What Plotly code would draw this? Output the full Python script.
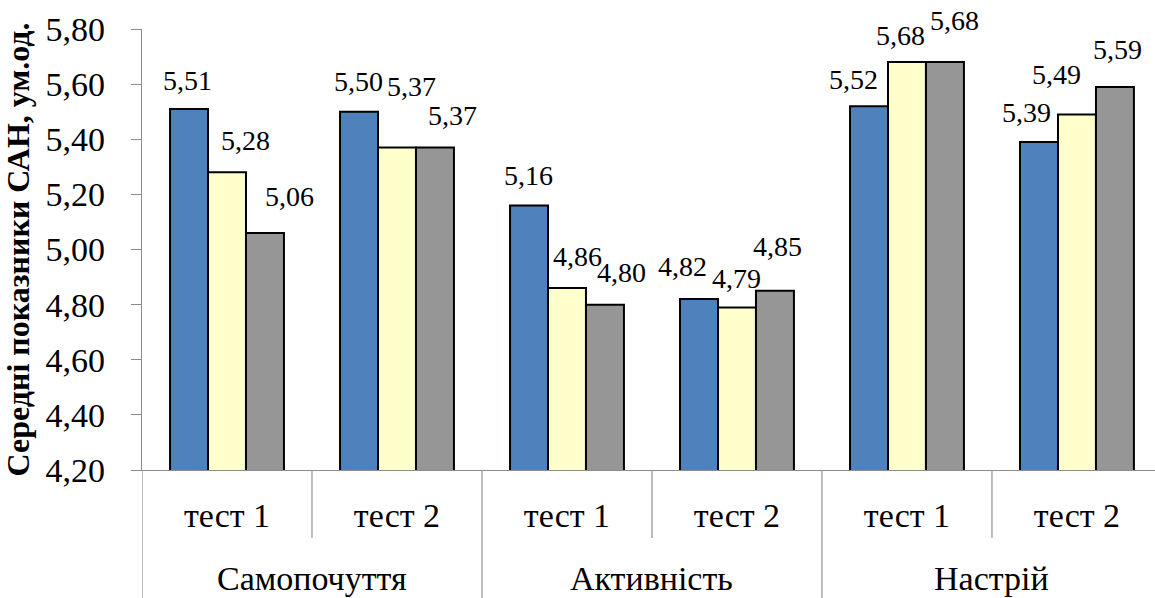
import plotly.graph_objects as go

# Scale groups and test sessions along the x axis
groups = ["Самопочуття", "Активність", "Настрій"]
tests = ["тест 1", "тест 2", "тест 1", "тест 2", "тест 1", "тест 2"]

# Mean SAN scores for the three series
series_a = [5.51, 5.50, 5.16, 4.82, 5.52, 5.39]
series_b = [5.28, 5.37, 4.86, 4.79, 5.68, 5.49]
series_c = [5.06, 5.37, 4.80, 4.85, 5.68, 5.59]

y_ticks = [4.20, 4.40, 4.60, 4.80, 5.00, 5.20, 5.40, 5.60, 5.80]

colors = ["#4F81BD", "#FFFFCC", "#969696"]
FONT = "Liberation Serif, Times New Roman, serif"

# label nudges (px) for each series' value labels: (dx, dy above bar top)
label_dx = [
    [-2, -1, -1, -17, -16, -13],
    [18, 15, 11, 0, -6, -20],
    [25, 18, 17, 3, 10, 3],
]
label_dy = [
    [26, 28, 28, 31, 25, 28],
    [30, 59, 30, 27, 25, 38],
    [34, 30, 30, 42, 40, 35],
]

x_pos = list(range(len(tests)))
bargap = 0.33
bar_w = (1 - bargap) / 3

fig = go.Figure()
all_series = [series_a, series_b, series_c]
for k, vals in enumerate(all_series):
    fig.add_trace(go.Bar(
        x=x_pos, y=vals,
        marker=dict(color=colors[k], line=dict(color="black", width=2)),
        showlegend=False, hoverinfo="skip",
    ))

# value labels above bars
annotations = []
for k, vals in enumerate(all_series):
    for i, v in enumerate(vals):
        annotations.append(dict(
            x=i + (k - 1) * bar_w, y=v, xref="x", yref="y",
            text=f"{v:.2f}".replace(".", ","), showarrow=False,
            xanchor="center", yanchor="middle",
            xshift=label_dx[k][i], yshift=label_dy[k][i] + 2,
            font=dict(family=FONT, size=28, color="black"),
        ))

# group labels under the test labels
for g, name in enumerate(groups):
    annotations.append(dict(
        x=2 * g + 0.5, y=-0.245, xref="x", yref="paper",
        text=name, showarrow=False, xanchor="center", yanchor="middle",
        font=dict(family=FONT, size=34, color="black"),
    ))

# category dividers below the axis
shapes = []
for b in [0.5, 2.5, 4.5]:
    shapes.append(dict(type="line", xref="x", yref="paper", x0=b, x1=b,
                       y0=0, y1=-0.154, line=dict(color="#9a9a9a", width=1.3)))
for b in [-0.5, 1.5, 3.5, 5.5]:
    shapes.append(dict(type="line", xref="x", yref="paper", x0=b, x1=b,
                       y0=0, y1=-0.35, line=dict(color="#9a9a9a", width=1.3)))

fig.update_layout(
    width=1155, height=598, autosize=False,
    margin=dict(l=142, r=0, t=29, b=128),
    paper_bgcolor="white", plot_bgcolor="white",
    barmode="group", bargap=bargap, bargroupgap=0,
    separators=", ",
    annotations=annotations, shapes=shapes,
    font=dict(family=FONT, color="black"),
)

fig.update_xaxes(
    range=[-0.5, 5.459], tickvals=x_pos, ticktext=tests,
    showline=True, linecolor="#8c8c8c", linewidth=1.3,
    showgrid=False, zeroline=False, ticks="",
    tickfont=dict(family=FONT, size=34, color="black"),
    ticklabelstandoff=15,
)
fig.update_yaxes(
    range=[4.2, 5.8], tickvals=y_ticks, tickformat=".2f",
    showline=True, linecolor="#8c8c8c", linewidth=1.3,
    ticks="outside", ticklen=10, tickcolor="#8c8c8c", tickwidth=1.3,
    showgrid=False, zeroline=False,
    tickfont=dict(family=FONT, size=34, color="black"),
    ticklabelstandoff=19,
    title=dict(text="Середні показники САН, ум.од.", standoff=6,
               font=dict(family=FONT, size=32, color="black", weight="bold")),
)

fig.write_html("out.html")
